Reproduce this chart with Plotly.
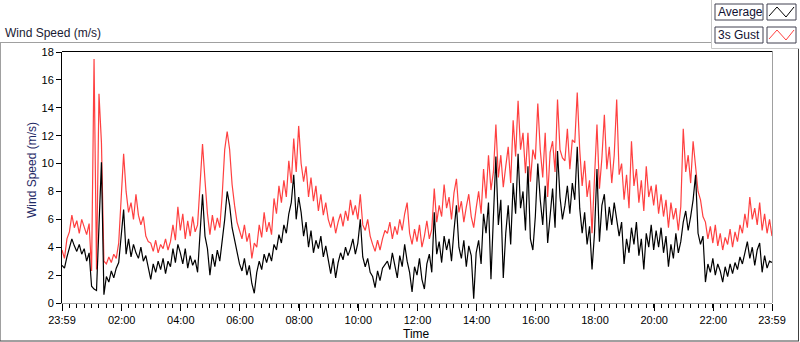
import pandas as pd
import plotly.graph_objects as go

# ---- data (5-minute samples) ----
avg_speed = [
    2.7, 2.5, 3.3, 3.9, 4.6, 4.1, 3.7, 4.2, 3.5, 3.9, 3.0, 3.6,
    1.2, 1.0, 0.9, 5.5, 10.1, 0.6, 1.9, 1.5, 2.3, 1.8, 2.5, 2.9,
    4.8, 6.7, 3.5, 4.6, 3.3, 4.2, 3.6, 3.2, 4.0, 3.0, 3.4, 2.4,
    1.7, 2.8, 2.2, 3.0, 2.4, 3.2, 2.1, 3.0, 2.6, 3.9, 2.9, 4.2,
    3.6, 2.8, 3.9, 2.5, 3.4, 2.7, 3.1, 2.2, 5.0, 7.8, 4.8, 3.9,
    2.0, 3.5, 2.6, 3.8, 3.0, 4.5, 6.0, 8.0, 7.0, 5.4, 4.6, 3.6,
    2.8, 2.3, 3.2, 2.0, 2.7, 1.4, 0.7, 2.2, 3.0, 2.4, 3.5, 2.9,
    3.6, 3.0, 4.2, 3.8, 4.9, 4.3, 5.6, 5.0, 6.4, 7.2, 9.2, 6.0,
    7.6, 6.5, 4.8, 5.8, 4.0, 5.2, 3.6, 4.5, 3.9, 4.8, 3.3, 4.1,
    3.0, 2.1, 3.2, 1.8, 2.9, 3.6, 3.1, 4.0, 3.4, 3.9, 4.6, 3.5,
    4.3, 6.0, 3.3, 2.6, 3.2, 2.2, 1.9, 1.1, 2.3, 1.6, 2.5, 2.8,
    3.0, 2.4, 3.6, 2.7, 1.8, 3.4, 2.6, 4.2, 3.0, 2.2, 0.8, 2.6,
    2.0, 3.2, 1.7, 1.0, 2.8, 3.5, 2.2, 6.5, 3.5, 4.4, 2.9, 4.8,
    3.8, 4.6, 3.0, 5.2, 7.0, 4.0, 3.2, 4.5, 2.6, 4.1, 3.4, 0.3,
    3.6, 4.5, 2.8, 6.4, 5.0, 7.2, 1.7, 6.2, 10.5, 5.6, 7.4, 1.8,
    5.0, 7.0, 4.2, 8.6, 6.4, 10.7, 6.8, 8.0, 5.2, 9.8, 4.6, 3.8,
    6.2, 10.0, 7.4, 5.6, 8.4, 4.3, 6.5, 8.2, 5.4, 10.9, 7.6, 6.0,
    7.0, 8.4, 6.4, 8.6, 7.4, 11.2, 6.8, 5.0, 6.5, 4.2, 5.5, 2.4,
    5.0, 9.6, 4.4, 7.0, 7.8, 5.2, 6.9, 5.6, 7.2, 6.0, 4.8, 5.8,
    2.8, 4.6, 3.6, 5.4, 4.2, 5.8, 3.4, 4.6, 2.4, 5.0, 4.0, 5.6,
    3.8, 5.2, 4.0, 5.4, 3.6, 4.8, 2.6, 4.2, 3.2, 5.0, 3.6, 4.4,
    5.8, 6.6, 5.2, 6.2, 7.4, 9.2, 5.0, 4.2, 4.8, 1.5, 2.8, 2.2,
    3.2, 2.0, 2.8, 2.3, 1.5, 2.6, 1.9, 2.8, 2.1, 2.9, 2.4, 3.3,
    2.8, 3.6, 4.4, 3.2, 4.0, 2.7, 3.8, 4.3, 2.2, 3.4, 2.5, 3.0, 2.9,
]
gust_speed = [
    3.8, 3.2, 4.6, 5.1, 6.3, 5.4, 5.9, 5.0, 6.0, 5.5, 4.9, 5.7,
    2.3, 17.5, 2.4, 15.0, 11.5, 3.0, 2.8, 3.3, 2.9, 3.5, 3.2, 4.3,
    7.5, 10.7, 8.0, 6.5, 7.2, 6.0, 7.8, 6.3, 5.6, 6.2, 4.8, 4.4,
    4.3, 3.7, 4.5, 3.6, 4.2, 3.9, 4.6, 3.8, 4.4, 5.6, 4.5, 6.9,
    5.2, 6.4, 4.6, 5.9, 4.8, 6.2, 5.1, 5.6, 8.5, 11.4, 8.8, 6.4,
    4.9, 6.3, 5.2, 6.1, 5.4, 7.8, 11.0, 12.3, 11.0, 8.5, 7.0, 5.8,
    5.2, 4.6, 5.6, 4.4, 5.0, 3.2, 4.3, 4.0, 5.6, 4.7, 6.5, 5.1,
    5.8, 4.9, 7.5, 6.4, 8.4, 7.2, 8.8, 7.6, 10.2, 8.6, 11.8, 9.4,
    12.7, 10.0, 8.7, 9.8, 7.6, 9.0, 7.3, 8.4, 6.6, 7.8, 6.3, 7.2,
    6.0, 5.4, 6.2, 5.0, 5.8, 6.4, 5.5, 6.6, 5.9, 7.4, 6.3, 7.0,
    6.0, 7.8, 5.6, 5.2, 6.0, 4.8, 4.2, 3.7, 4.5, 3.8, 4.6, 5.2,
    5.0, 5.8, 4.6, 5.5, 4.9, 6.0, 5.2, 6.4, 7.2, 5.0, 4.2, 5.3,
    4.4, 5.6, 4.0, 4.8, 5.9, 4.6, 5.3, 8.2, 5.8, 7.0, 6.2, 8.5,
    6.8, 7.6, 6.0, 7.9, 8.9, 6.5, 7.3, 5.8, 6.9, 7.8, 6.2, 5.4,
    6.8, 8.0, 6.4, 9.6, 7.5, 10.6, 8.1, 9.4, 12.8, 9.0, 10.6, 8.3,
    9.8, 11.2, 8.6, 13.1, 10.5, 14.5, 11.0, 12.2, 9.3, 12.2, 8.7, 11.0,
    10.3, 14.3, 11.0, 9.0, 12.2, 7.6, 10.8, 11.6, 9.4, 14.6, 11.0, 10.4,
    10.2, 12.5, 9.6, 11.7, 11.5, 15.1, 11.0, 8.4, 10.2, 7.6, 8.8, 5.0,
    9.0, 12.8, 8.2, 10.4, 13.5, 9.6, 11.2, 8.6, 10.6, 14.6, 9.2, 10.0,
    7.4, 9.2, 6.8, 11.6, 8.4, 9.6, 7.2, 8.8, 6.6, 9.8, 7.6, 8.4,
    7.0, 8.5, 6.4, 7.8, 6.2, 7.4, 5.4, 7.2, 6.0, 6.8, 5.2, 6.9,
    12.5, 9.4, 10.6, 8.6, 11.6, 9.8, 8.0, 7.4, 6.2, 5.8, 4.6, 5.5,
    4.3, 5.6, 4.1, 5.0, 3.8, 4.7, 4.2, 5.3, 4.0, 5.1, 4.4, 5.6,
    5.0, 6.4, 5.4, 7.6, 6.0, 6.8, 5.6, 7.2, 5.2, 6.4, 5.0, 6.0, 4.8,
]
tick_labels = ["23:59", "02:00", "04:00", "06:00", "08:00", "10:00", "12:00",
               "14:00", "16:00", "18:00", "20:00", "22:00", "23:59"]
y_ticks = [0, 2, 4, 6, 8, 10, 12, 14, 16, 18]

times = pd.date_range("2024-01-01 23:59", periods=len(avg_speed), freq="5min")
tick_times = ([times[0]]
              + [pd.Timestamp("2024-01-02") + pd.Timedelta(hours=h) for h in range(2, 24, 2)]
              + [times[-1]])

# ---- geometry ----
W, H = 800, 342
L, R, T, B = 62, 28, 52, 39
PW, PH = W - L - R, H - T - B
FONT = "Liberation Sans"


def px(x):
    return (x - L) / PW


def py(y):
    return (H - B - y) / PH


fig = go.Figure()
fig.add_trace(go.Scatter(x=times, y=gust_speed, mode="lines", name="3s Gust",
                         line=dict(color="#FF4040", width=1.2)))
fig.add_trace(go.Scatter(x=times, y=avg_speed, mode="lines", name="Average",
                         line=dict(color="#000000", width=1.2)))

shapes = []


def line(x0, y0, x1, y1, color, width=1):
    shapes.append(dict(type="line", xref="paper", yref="paper",
                       x0=px(x0), y0=py(y0), x1=px(x1), y1=py(y1),
                       line=dict(color=color, width=width), layer="above"))


def rect(x0, y0, x1, y1, color):
    shapes.append(dict(type="rect", xref="paper", yref="paper",
                       x0=px(x0), y0=py(y0), x1=px(x1), y1=py(y1),
                       line=dict(color=color, width=1), fillcolor="white", layer="above"))


def zigzag(pts, color):
    d = "M " + " L ".join(f"{px(a)},{py(b)}" for a, b in pts)
    shapes.append(dict(type="path", xref="paper", yref="paper", path=d,
                       line=dict(color=color, width=1), layer="above"))


# outer panel frame
line(0, 42.5, 712, 42.5, "#a0a0a0")
line(0.5, 42.5, 0.5, 341, "#a0a0a0")
line(0, 341, 799, 341, "#404040")
line(798.5, 48.5, 798.5, 341, "#404040")
# legend frame
line(711.5, 0, 711.5, 48.5, "#c8c8c8")
line(711.5, 48.5, 799, 48.5, "#c8c8c8")
# plot area top / right border
line(62, 51.5, 772.5, 51.5, "#000000")
line(772.5, 51.5, 772.5, 303, "#a0a0a0")

# legend boxes
rect(715, 4, 763, 20, "#404050")
rect(767, 4, 796, 20, "#404050")
rect(715, 27, 763, 43, "#404050")
rect(767, 27, 796, 43, "#404050")
zigzag([(769, 16), (777, 7), (786, 17), (794, 7)], "#000000")
zigzag([(769, 39), (777, 30), (786, 40), (794, 30)], "#FF4040")

annotations = [
    dict(text="Wind Speed (m/s)", x=px(3), y=py(32.5), xanchor="left", yanchor="middle",
         font=dict(family=FONT, size=12, color="#1a1a33")),
    dict(text="Average", x=px(716), y=py(12), xanchor="left", yanchor="middle",
         font=dict(family=FONT, size=12, color="#101030")),
    dict(text="3s Gust", x=px(716), y=py(35), xanchor="left", yanchor="middle",
         font=dict(family=FONT, size=12, color="#101030")),
    dict(text="Wind Speed (m/s)", x=px(32), y=py(170), textangle=-90,
         xanchor="center", yanchor="middle",
         font=dict(family=FONT, size=12, color="#1f2a66")),
    dict(text="Time", x=px(416), y=py(334), xanchor="center", yanchor="middle",
         font=dict(family=FONT, size=12, color="#000000")),
]
for a in annotations:
    a.update(xref="paper", yref="paper", showarrow=False)

fig.update_layout(
    width=W, height=H,
    margin=dict(l=L, r=R, t=T, b=B, autoexpand=False),
    paper_bgcolor="white", plot_bgcolor="white",
    showlegend=False,
    shapes=shapes, annotations=annotations,
    font=dict(family=FONT, size=11, color="#000000"),
)
fig.update_xaxes(
    type="date", range=[times[0], times[-1]], automargin=False,
    tickmode="array", tickvals=tick_times, ticktext=tick_labels,
    ticks="outside", ticklen=7, tickcolor="#000000", tickwidth=1,
    showline=True, linecolor="#a0a0a0", linewidth=1,
    showgrid=False, zeroline=False,
    tickfont=dict(family=FONT, size=11, color="#000000"),
    minor=dict(ticks="outside", ticklen=4, tickcolor="#000000",
               tickmode="linear", tick0=times[0], dtick=15 * 60 * 1000, showgrid=False),
)
fig.update_yaxes(
    range=[0, 18], tickmode="array", tickvals=y_ticks, automargin=False,
    ticks="outside", ticklen=5, tickcolor="#000000",
    showline=True, linecolor="#000000", linewidth=1,
    showgrid=False, zeroline=False,
    tickfont=dict(family=FONT, size=11, color="#000000"),
)

fig.write_html(
    "out.html",
    config={"displayModeBar": False},
    post_script="document.body.style.margin='0px';document.body.style.padding='0px';"
                "document.body.style.overflow='hidden';",
)
